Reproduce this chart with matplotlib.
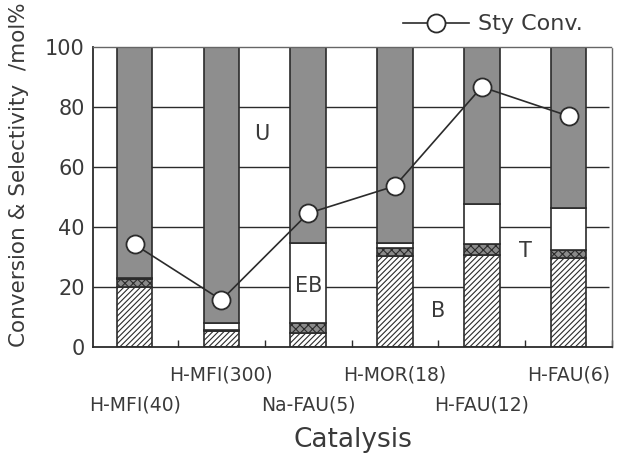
import numpy as np
import matplotlib
matplotlib.use("Agg")
import matplotlib.pyplot as plt
from matplotlib.ticker import MultipleLocator

plt.rcParams['font.family'] = ['DejaVu Sans']
plt.rcParams['hatch.linewidth'] = 0.8

# Каталізатори та склад продуктів (мол.%)
catalysts = ['H-MFI(40)', 'H-MFI(300)', 'Na-FAU(5)', 'H-MOR(18)', 'H-FAU(12)', 'H-FAU(6)']
sel_B = [20.0, 5.3, 4.8, 30.3, 30.8, 29.8]
sel_T = [2.6, 0.4, 3.3, 2.6, 3.6, 2.6]
sel_EB = [0.5, 2.2, 26.7, 1.7, 13.3, 14.0]
sty_conv = [34.2, 15.7, 44.6, 53.7, 86.7, 77.0]
grid_levels = [20, 40, 60, 80]

ink = '#2b2b2b'
txt = '#3a3a3a'
x = np.arange(len(catalysts))
B = np.array(sel_B)
T = np.array(sel_T)
EB = np.array(sel_EB)
U = 100 - B - T - EB

fig = plt.figure(figsize=(6.2, 4.61), dpi=100)
ax = fig.add_axes([0.150, 0.247, 0.837, 0.651])
ax.set_xlim(-0.48, 5.47)
ax.set_ylim(0, 100)

# горизонтальні лінії сітки (під стовпчиками)
ax.hlines(grid_levels, -0.48, 5.47, colors=ink, linewidth=1.0, zorder=1)

w = 0.41
kw = dict(width=w, edgecolor=ink, linewidth=1.2, zorder=2)
ax.bar(x, B, facecolor='white', hatch='//////', **kw)
ax.bar(x, T, bottom=B, facecolor='#8a8a8a', hatch='xxxx', **kw)
ax.bar(x, EB, bottom=B + T, facecolor='white', **kw)
ax.bar(x, U, bottom=B + T + EB, facecolor='#8e8e8e', **kw)

ax.plot(x, sty_conv, '-o', color=ink, lw=1.2, ms=13, mfc='white', mec=ink,
        mew=1.3, zorder=4, label='Sty Conv.')

# підписи зон
ax.text(1.46, 71, 'U', fontsize=15, color=txt, ha='center', va='center')
ax.text(2, 20.5, 'EB', fontsize=15, color=txt, ha='center', va='center', zorder=5)
ax.text(3.5, 12, 'B', fontsize=15, color=txt, ha='center', va='center')
ax.text(4.5, 32, 'T', fontsize=15, color=txt, ha='center', va='center')

ax.yaxis.set_major_locator(MultipleLocator(20))
ax.set_xticks(x + 0.5, minor=True)
ax.set_xticks([])
ax.tick_params(axis='x', which='minor', direction='in', length=5, width=1, color=ink)
ax.tick_params(axis='y', which='major', direction='in', length=0, labelsize=15,
               labelcolor=txt, pad=6)

for side in ['left', 'bottom']:
    ax.spines[side].set_color(ink)
    ax.spines[side].set_linewidth(1.3)
for side in ['top', 'right']:
    ax.spines[side].set_color('#666666')
    ax.spines[side].set_linewidth(1.0)
    ax.spines[side].set_linestyle((0, (1, 1)))

# ступінчасті підписи категорій
for i, name in enumerate(catalysts):
    yy = -0.093 if i % 2 == 1 else -0.193
    ax.text(i, yy, name, transform=ax.get_xaxis_transform(), fontsize=13.5,
            color=txt, ha='center', va='center')

ax.text(0.5, -0.31, 'Catalysis', transform=ax.transAxes, fontsize=19,
        color=txt, ha='center', va='center')
fig.text(0.03, 0.62, 'Conversion & Selectivity  /mol%', rotation=90, fontsize=15.5,
         color=txt, ha='center', va='center')

fig.legend(loc='center', bbox_to_anchor=(0.795, 0.947), frameon=False, fontsize=16,
           handlelength=3.0, handletextpad=0.4, labelcolor=txt)

fig.savefig('out.png', dpi=100)
